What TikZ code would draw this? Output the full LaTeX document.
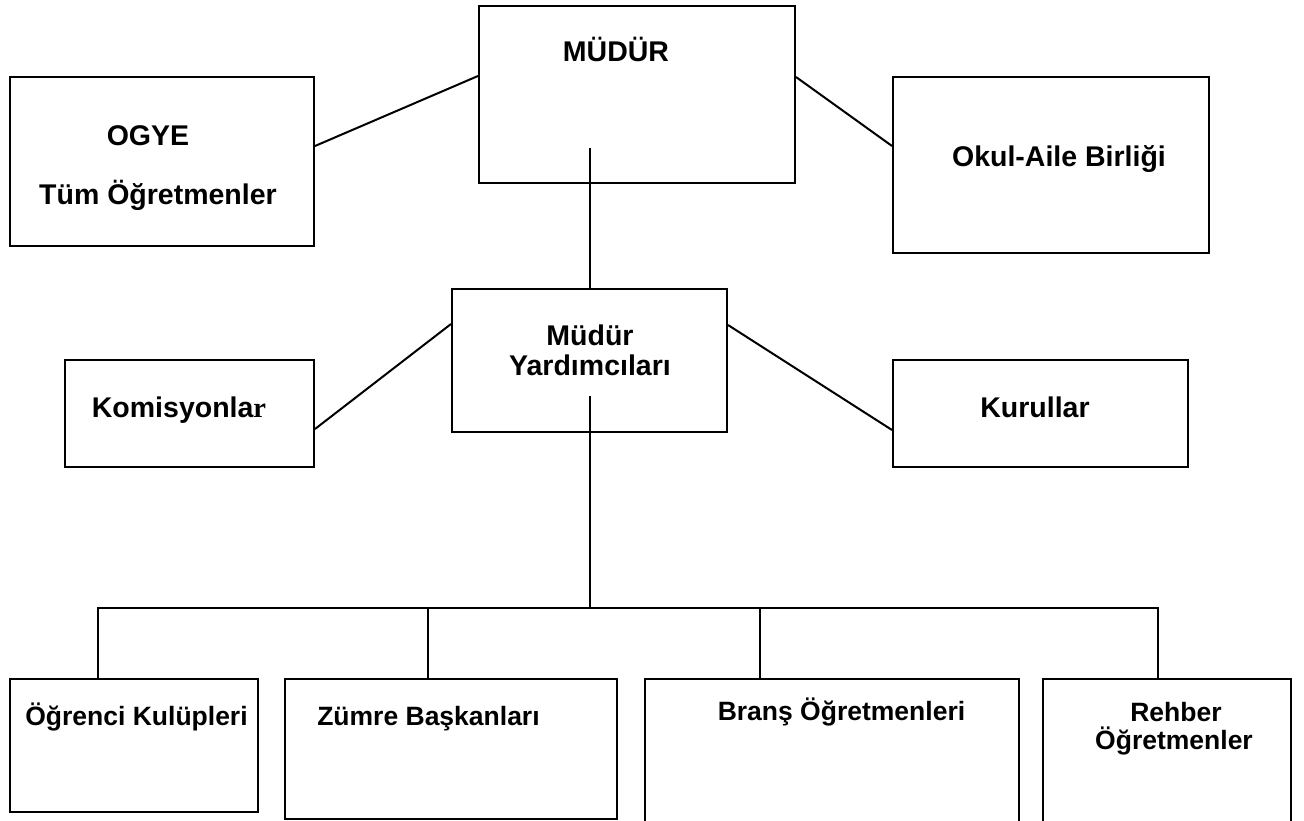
\documentclass[tikz,border=0pt]{standalone}
\usepackage{fontspec}
\setmainfont{Liberation Sans}
\newfontfamily\serifr{Liberation Serif}
\begin{document}
\begin{tikzpicture}[x=1pt,y=-1pt,
  box/.style={draw=black,line width=2pt,rectangle,inner sep=0pt,fill=white},
  lbl/.style={anchor=base,inner sep=0pt,font=\fontsize{28.5}{29}\selectfont\bfseries},
  slbl/.style={anchor=base,inner sep=0pt,font=\fontsize{26.5}{27}\selectfont\bfseries},
  conn/.style={line width=2pt}]
\useasboundingbox (0,0) rectangle (1304,821);
\fill[white] (0,0) rectangle (1304,821);
\coordinate (m1) at (590,148);
\coordinate (m2) at (590,396);
\coordinate (bm) at (590,608);
\coordinate (b1) at (98,608);
\coordinate (b2) at (428,608);
\coordinate (b3) at (760,608);
\coordinate (b4) at (1158,608);
% boxes
\node[box,minimum width=316pt,minimum height=177pt] (mudur) at (637,94.5) {};
\node[box,minimum width=304pt,minimum height=169pt] (ogye) at (162,161.5) {};
\node[box,minimum width=316pt,minimum height=176pt] (okul) at (1051,165) {};
\node[box,minimum width=275pt,minimum height=143pt] (myrd) at (589.5,360.5) {};
\node[box,minimum width=249pt,minimum height=107pt] (komis) at (189.5,413.5) {};
\node[box,minimum width=295pt,minimum height=107pt] (kurul) at (1040.5,413.5) {};
\node[box,minimum width=248pt,minimum height=133pt] (ogrenci) at (134,745.5) {};
\node[box,minimum width=332pt,minimum height=140pt] (zumre) at (451,749) {};
\node[box,minimum width=374pt,minimum height=161pt] (brans) at (832,759.5) {};
\node[box,minimum width=248pt,minimum height=161pt] (rehber) at (1167,759.5) {};
% connectors
\draw[conn] ([yshift=-70pt]ogye.north east) -- ([yshift=-71pt]mudur.north west);
\draw[conn] ([yshift=-72pt]mudur.north east) -- ([yshift=-70pt]okul.north west);
\draw[conn] (m1) -- (m1 |- myrd.north);
\draw[conn] ([yshift=-70pt]komis.north east) -- ([yshift=-36pt]myrd.north west);
\draw[conn] ([yshift=-37pt]myrd.north east) -- ([yshift=-71pt]kurul.north west);
\draw[conn] (m2) -- (bm);
\draw[conn,line cap=rect] (b1) -- (b4);
\draw[conn] (b1) -- (b1 |- ogrenci.north);
\draw[conn] (b2) -- (b2 |- zumre.north);
\draw[conn] (b3) -- (b3 |- brans.north);
\draw[conn] (b4) -- (b4 |- rehber.north);
% labels
\node[lbl] (t1) at (616,62) {MÜDÜR};
\node[lbl] (t2) at (148,146) {OGYE};
\node[lbl] (t3) at (158,205) {Tüm Öğretmenler};
\node[lbl] (t4) at (1059,167) {Okul-Aile Birliği};
\node[lbl] (t5) at (590,345) {Müdür};
\node[lbl] (t6) at (590,375) {Yardımcıları};
\node[lbl] (t7) at (179,417) {Komisyonla{\serifr r}};
\node[lbl] (t8) at (1035,417) {Kurullar};
\node[slbl] (t9) at (136.5,725) {Öğrenci Kulüpleri};
\node[slbl] (t10) at (428.5,725) {Zümre Başkanları};
\node[slbl] (t11) at (841.5,720) {Branş Öğretmenleri};
\node[slbl] (t12) at (1176,721) {Rehber};
\node[slbl] (t13) at (1174,749) {Öğretmenler};
\end{tikzpicture}
\end{document}
